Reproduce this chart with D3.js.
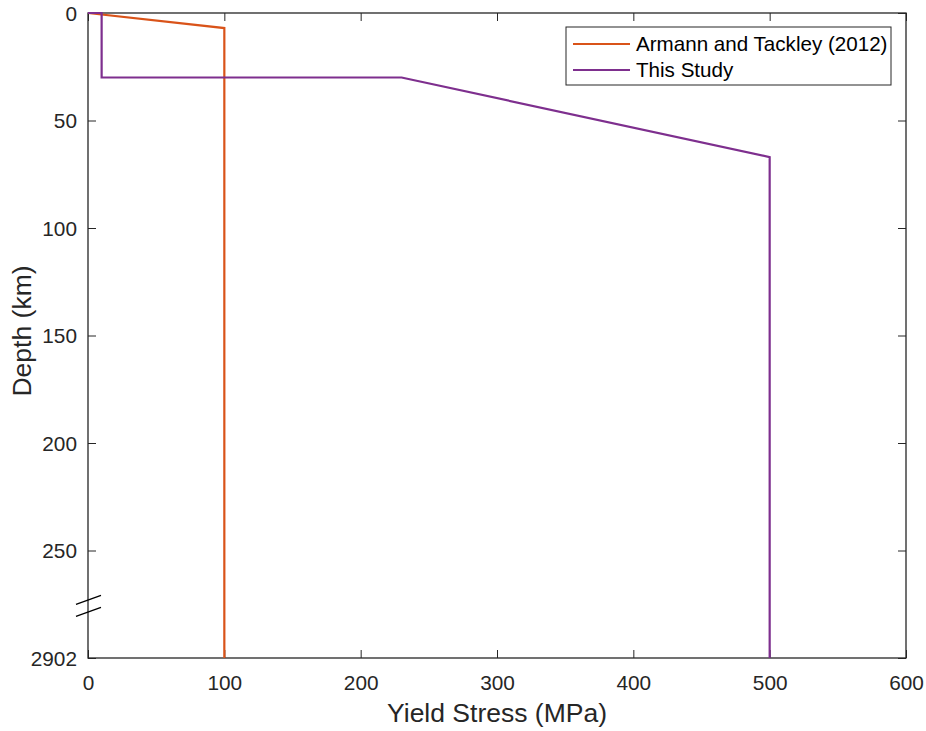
<!DOCTYPE html>
<html>
<head>
<meta charset="utf-8">
<script src="https://cdn.jsdelivr.net/npm/d3@7"></script>
<style>
  body { margin: 0; background: #fff; }
  svg { font-family: "Liberation Sans", Arial, sans-serif; }
</style>
</head>
<body>
<svg width="926" height="731"></svg>
<script>
// yield stress profiles (stress in MPa, depth in km)
var armannStress = [0, 100, 100];
var armannDepth = [0, 7, 2902];
var studyStress = [0, 10, 10, 230, 500, 500];
var studyDepth = [0, 0, 30, 30, 67, 2902];

var seriesNames = ['Armann and Tackley (2012)', 'This Study'];
var xTicks = [0, 100, 200, 300, 400, 500, 600];
var yTicks = [0, 50, 100, 150, 200, 250, 2902];

var margin = {top: 13, right: 20, bottom: 73, left: 88};
var width = 926 - margin.left - margin.right;
var height = 731 - margin.top - margin.bottom;
var breakDepth = 276;   // axis is broken between here and the core-mantle boundary
var k = height / 300;

var x = d3.scaleLinear().domain([0, 600]).range([0, width]);
var y = d3.scaleLinear()
    .domain([0, breakDepth, 2902])
    .range([0, breakDepth * k, height]);

var axisColor = '#262626';
var colors = ['#D95319', '#7E2F8E'];

var svg = d3.select('svg');
var g = svg.append('g')
    .attr('transform', 'translate(' + margin.left + ',' + margin.top + ')');

function styleAxis(sel, showText) {
    sel.attr('font-family', null).attr('font-size', null);
    sel.select('.domain').remove();
    sel.selectAll('.tick line').attr('stroke', axisColor).attr('stroke-width', 1);
    sel.selectAll('.tick text')
        .attr('fill', axisColor)
        .attr('dy', '0.35em')
        .style('font-size', '20.8px')
        .style('display', showText ? null : 'none');
}

// ticks point inward, MATLAB style
g.append('g')
    .attr('transform', 'translate(0,' + height + ')')
    .call(d3.axisBottom(x).tickValues(xTicks).tickSizeInner(-8).tickSizeOuter(0).tickPadding(25))
    .call(styleAxis, true);
g.append('g')
    .call(d3.axisTop(x).tickValues(xTicks).tickSizeInner(-8).tickSizeOuter(0))
    .call(styleAxis, false);
g.append('g')
    .call(d3.axisLeft(y).tickValues(yTicks).tickFormat(d3.format('d'))
        .tickSizeInner(-8).tickSizeOuter(0).tickPadding(11))
    .call(styleAxis, true);
g.append('g')
    .attr('transform', 'translate(' + width + ',0)')
    .call(d3.axisRight(y).tickValues(yTicks).tickSizeInner(-8).tickSizeOuter(0))
    .call(styleAxis, false);

g.append('rect')
    .attr('width', width)
    .attr('height', height)
    .attr('fill', 'none')
    .attr('stroke', axisColor)
    .attr('stroke-width', 1.3);

// axis break marks
var yb = y(breakDepth) - 6;
[0, 12].forEach(function(off) {
    g.append('line')
        .attr('x1', -12).attr('y1', yb + off + 4)
        .attr('x2', 13).attr('y2', yb + off - 5)
        .attr('stroke', '#000')
        .attr('stroke-width', 1.3);
});

var line = d3.line()
    .x(d => x(d[0]))
    .y(d => y(d[1]));

var series = [
    d3.zip(armannStress, armannDepth),
    d3.zip(studyStress, studyDepth)
];

g.selectAll('.series')
    .data(series)
    .enter()
    .append('path')
    .classed('series', true)
    .attr('d', line)
    .attr('fill', 'none')
    .attr('stroke', (d, i) => colors[i])
    .attr('stroke-width', 2.2);

// axis labels
svg.append('text')
    .attr('x', margin.left + width / 2)
    .attr('y', 722)
    .attr('text-anchor', 'middle')
    .attr('fill', axisColor)
    .style('font-size', '26.5px')
    .text('Yield Stress (MPa)');

svg.append('text')
    .attr('transform', 'translate(31,' + (margin.top + height * 0.493) + ') rotate(-90)')
    .attr('text-anchor', 'middle')
    .attr('fill', axisColor)
    .style('font-size', '26.5px')
    .text('Depth (km)');

// legend
var legend = svg.append('g').attr('transform', 'translate(566,27)');
legend.append('rect')
    .attr('width', 325)
    .attr('height', 58)
    .attr('fill', '#fff')
    .attr('stroke', axisColor)
    .attr('stroke-width', 1);

var items = legend.selectAll('.item')
    .data(seriesNames)
    .enter()
    .append('g')
    .classed('item', true)
    .attr('transform', (d, i) => 'translate(0,' + (17 + i * 26) + ')');

items.append('line')
    .attr('x1', 7).attr('x2', 64)
    .attr('stroke', (d, i) => colors[i])
    .attr('stroke-width', 2.2);

items.append('text')
    .attr('x', 70)
    .attr('dy', '0.35em')
    .attr('fill', '#000')
    .style('font-size', '20.6px')
    .text(d => d);
</script>
</body>
</html>
